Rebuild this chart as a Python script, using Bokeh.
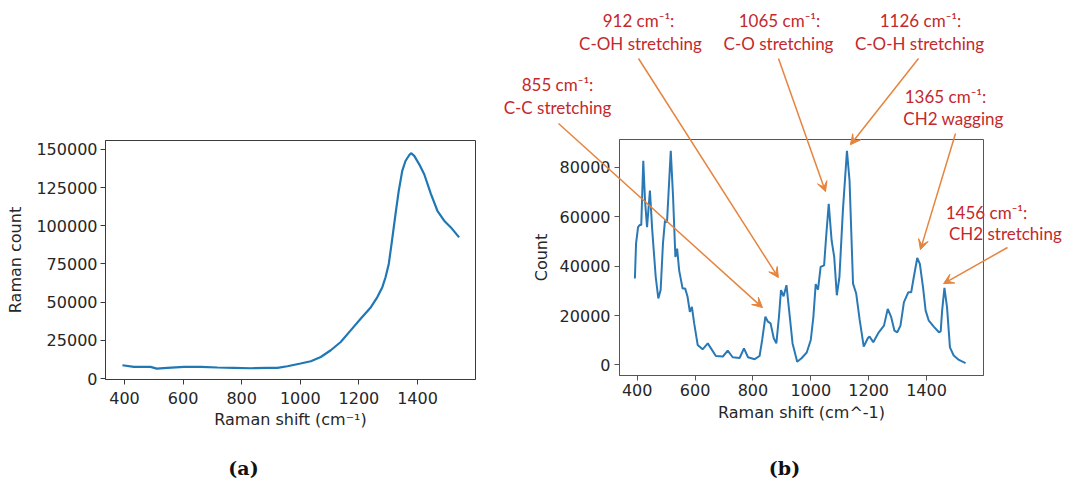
from bokeh.plotting import figure
from bokeh.models import (Arrow, VeeHead, FixedTicker, BasicTickFormatter, GridBox,
                          Range1d, ColumnDataSource)
from bokeh.core.properties import value
from bokeh.embed import file_html
from bokeh.resources import INLINE

# ---------------- data ----------------
# (a) Raman spectrum with fluorescence background
left_x = [393, 432, 489, 510, 546, 603, 660, 717, 773, 830, 887, 922, 956, 1001,
          1036, 1070, 1104, 1138, 1172, 1206, 1241, 1263, 1280, 1291, 1302, 1313,
          1325, 1336, 1348, 1359, 1372, 1378, 1389, 1406, 1423, 1446, 1468, 1491,
          1514, 1542]
left_y = [8700, 7600, 7600, 6500, 7000, 7600, 7600, 7200, 7000, 6700, 7000, 7000,
          8000, 9800, 11300, 14100, 18500, 23900, 31500, 39100, 46700, 53300, 59800,
          66300, 75000, 90200, 107600, 122800, 135900, 142400, 146300, 147500,
          145700, 140200, 133700, 120700, 109800, 103300, 98900, 92400]

# (b) background-corrected spectrum
right_x = [392, 396, 403, 409, 414, 421, 427, 434, 444, 452, 464, 473, 481, 489, 496,
           503, 516, 524, 532, 538, 545, 557, 566, 574, 582, 589, 597, 609, 626, 644,
           655, 672, 696, 713, 730, 754, 769, 783, 806, 823, 832, 843, 852, 861, 872,
           881, 890, 897, 906, 916, 925, 937, 953, 968, 986, 1000, 1009, 1017, 1025,
           1034, 1046, 1053, 1062, 1072, 1081, 1090, 1099, 1111, 1125, 1134, 1146,
           1157, 1169, 1183, 1197, 1203, 1216, 1235, 1253, 1266, 1278, 1289, 1299,
           1310, 1322, 1337, 1347, 1356, 1368, 1377, 1388, 1397, 1408, 1425, 1443,
           1449, 1454, 1462, 1471, 1481, 1494, 1512, 1535]
right_y = [34960, 49100, 55800, 56700, 56700, 82700, 66600, 55800, 70600, 54500,
           35600, 26900, 30300, 49100, 58500, 57800, 86700, 67900, 43700, 47100,
           38300, 30900, 30900, 27600, 21500, 23500, 16800, 8100, 6300, 8700,
           6700, 3600, 3400, 5800, 3100, 2800, 6700, 3100, 2300, 3600,
           10100, 19500, 17500, 16800, 10800, 8700, 19500, 30300, 27800, 32300,
           22200, 8700, 1300, 2700, 5000, 10100, 19500, 32700, 30500, 39700,
           40300, 51800, 65200, 50400, 43700, 28200, 35600, 62600, 86700, 74600,
           32900, 28900, 18200, 7400, 10800, 11500, 9200, 13200, 15900, 22700,
           19300, 13900, 13200, 15900, 25400, 29400, 29400, 35500, 43300, 40900,
           31400, 22000, 17900, 15500, 13200, 13600, 22000, 31200, 23300, 7100,
           3800, 2000, 700]

# peak annotations
peak_titles = ["855 cm\u207b\u00b9:", "912 cm\u207b\u00b9:", "1065 cm\u207b\u00b9:",
               "1126 cm\u207b\u00b9:", "1365 cm\u207b\u00b9:", "1456 cm\u207b\u00b9:"]
peak_modes = ["C-C stretching", "C-OH stretching", "C-O stretching",
              "C-O-H stretching", "CH2 wagging", "CH2  stretching"]
arrow_tip_x = [833, 888, 1051, 1137, 1379, 1459]
arrow_tip_y = [23200, 35350, 70170, 89200, 46690, 32920]

captions = ["(a)", "(b)"]

left_xticks = [400, 600, 800, 1000, 1200, 1400]
left_yticks = [0, 25000, 50000, 75000, 100000, 125000, 150000]
right_xticks = [400, 600, 800, 1000, 1200, 1400]
right_yticks = [0, 20000, 40000, 60000, 80000]

# ---------------- layout (pixels) ----------------
PAGE_W, H = 1070, 479
W1, W2 = 490, 580
L1, R1, T1, B1 = 105, 15, 140, 100
L2, R2, T2, B2 = 129, 87, 139, 104
XR1, YR1 = (335.2, 1598.0), (-650, 155800)
XR2, YR2 = (338.8, 1597.0), (-4300, 91300)

# label centres and arrow starts, page pixels
title_pos = [(557, 84), (638, 20), (779, 20), (920, 20), (945, 96), (986, 212)]
mode_pos = [(557, 107), (640, 43), (778, 43), (919, 43), (953, 118), (1007, 233)]
arrow_start = [(558, 123), (638, 58), (778, 58), (918, 58), (955, 133), (1007, 247)]
caption_pos = [(243, 467), (784, 467)]

BLUE = "#1f77b4"
RED = "#c4282c"
ORANGE = "#e5843e"
TXT = "#262626"


def make_fig(w, l, r, t, b, xr, yr, outline):
    p = figure(width=w, height=H, x_range=xr, y_range=yr,
               output_backend="svg", toolbar_location=None,
               min_border_left=l, min_border_right=r,
               min_border_top=t, min_border_bottom=b)
    p.frame_align = False
    p.xgrid.visible = False
    p.ygrid.visible = False
    p.outline_line_color = outline
    p.outline_line_width = 1
    p.background_fill_color = "white"
    p.border_fill_color = "white"
    for ax in p.axis:
        ax.major_tick_out = 5
        ax.major_tick_in = 0
        ax.minor_tick_out = 0
        ax.minor_tick_in = 0
        ax.axis_line_color = outline
        ax.major_tick_line_color = outline
        ax.major_label_text_font = "DejaVu Sans"
        ax.major_label_text_font_size = "16px"
        ax.major_label_text_color = TXT
        ax.axis_label_text_font = "DejaVu Sans"
        ax.axis_label_text_font_size = "16px"
        ax.axis_label_text_font_style = "normal"
        ax.axis_label_text_color = TXT
    return p


# ---------------- panel (a) ----------------
p1 = make_fig(W1, L1, R1, T1, B1, XR1, YR1, "#3a3a3a")
p1.line(left_x, left_y, line_color=BLUE, line_width=2.2)
p1.xaxis.ticker = FixedTicker(ticks=left_xticks)
p1.yaxis.ticker = FixedTicker(ticks=left_yticks)
p1.yaxis.formatter = BasicTickFormatter(use_scientific=False)
p1.xaxis.axis_label = "Raman shift (cm\u207b\u00b9)"
p1.yaxis.axis_label = "Raman count"
p1.xaxis.major_label_standoff = 7
p1.yaxis.major_label_standoff = 3
p1.xaxis.axis_label_standoff = 3
p1.yaxis.axis_label_standoff = 8

# ---------------- panel (b) ----------------
p2 = make_fig(W2, L2, R2, T2, B2, XR2, YR2, "#555555")
p2.line(right_x, right_y, line_color="#2a79b5", line_width=2)
p2.xaxis.ticker = FixedTicker(ticks=right_xticks)
p2.yaxis.ticker = FixedTicker(ticks=right_yticks)
p2.yaxis.formatter = BasicTickFormatter(use_scientific=False)
p2.xaxis.axis_label = "Raman shift (cm^-1)"
p2.yaxis.axis_label = "Count"
p2.xaxis.major_label_standoff = 3
p2.yaxis.major_label_standoff = 4
p2.xaxis.axis_label_standoff = 4
p2.yaxis.axis_label_standoff = 6

# ---------------- transparent overlay sharing panel (b)'s data scale ----------------
FW2, FH2 = W2 - L2 - R2, H - T2 - B2
FLP, FTP = W1 + L2, T2                      # frame corner of (b) on the page
ux = (XR2[1] - XR2[0]) / FW2
uy = (YR2[1] - YR2[0]) / FH2
ov_x = Range1d(XR2[0] - FLP * ux, XR2[0] + (PAGE_W - FLP) * ux)
ov_y = Range1d(YR2[1] - (H - FTP) * uy, YR2[1] + FTP * uy)


def to_data(pos):
    px, py = pos
    return XR2[0] + (px - FLP) * ux, YR2[1] - (py - FTP) * uy


ov = figure(width=PAGE_W, height=H, x_range=ov_x, y_range=ov_y,
            x_axis_type=None, y_axis_type=None, output_backend="svg",
            toolbar_location=None, min_border=0)
ov.frame_align = False
ov.outline_line_color = None
ov.background_fill_color = None
ov.border_fill_color = None
ov.background_fill_alpha = 0
ov.border_fill_alpha = 0

for i in range(len(peak_titles)):
    sx, sy = to_data(arrow_start[i])
    ov.add_layout(Arrow(x_start=sx, y_start=sy, x_end=arrow_tip_x[i], y_end=arrow_tip_y[i],
                        line_color=ORANGE, line_width=1.5,
                        end=VeeHead(size=10, fill_color=ORANGE, line_color=ORANGE)))

lab_pts = [to_data(p) for p in title_pos] + [to_data(p) for p in mode_pos]
lab_src = ColumnDataSource(dict(x=[p[0] for p in lab_pts], y=[p[1] for p in lab_pts],
                                text=peak_titles + peak_modes))
ov.text(x="x", y="y", text="text", source=lab_src, text_align="center",
        text_baseline="middle", text_font=value("Lato"), text_font_size="17px",
        text_color=RED)

cap_pts = [to_data(p) for p in caption_pos]
cap_src = ColumnDataSource(dict(x=[p[0] for p in cap_pts], y=[p[1] for p in cap_pts],
                                text=captions))
ov.text(x="x", y="y", text="text", source=cap_src, text_align="center",
        text_baseline="middle", text_font=value("DejaVu Serif"),
        text_font_style="bold", text_font_size="19px", text_color="#111111")

layout = GridBox(children=[(p1, 0, 0), (p2, 0, 1), (ov, 0, 0, 1, 2)], spacing=0)
open("out.html", "w").write(file_html(layout, INLINE))
